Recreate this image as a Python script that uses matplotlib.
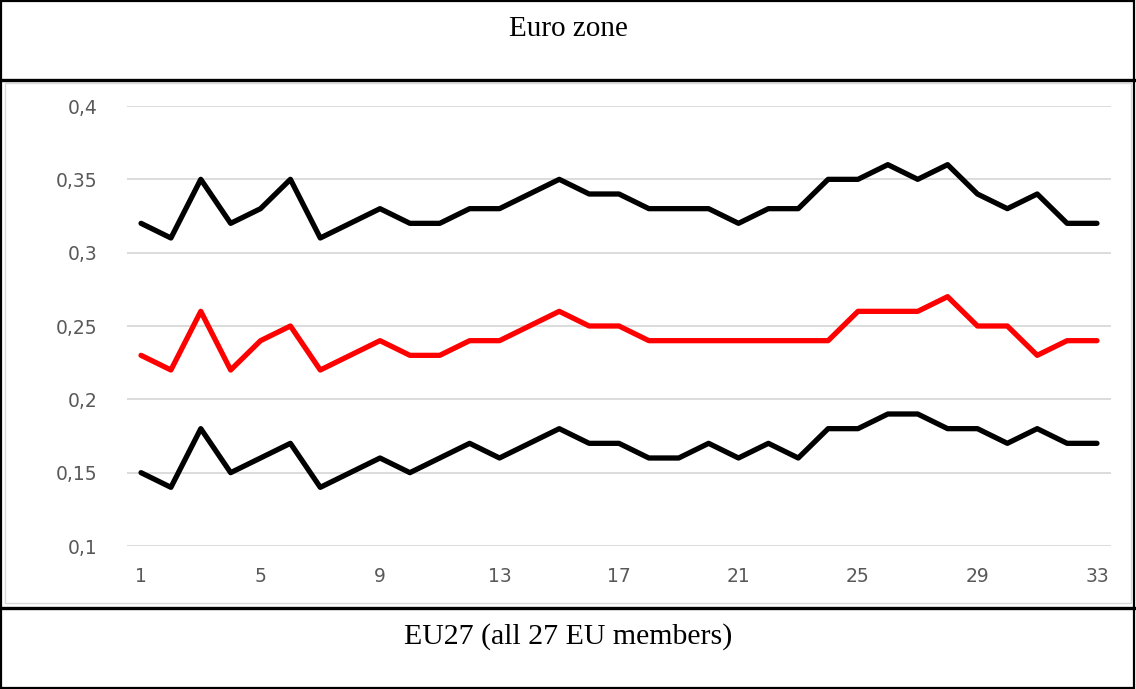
import matplotlib
matplotlib.use("Agg")
import matplotlib.pyplot as plt
from matplotlib.lines import Line2D
from matplotlib.patches import Rectangle

x_values = list(range(1, 34))
upper_black = [0.32, 0.31, 0.35, 0.32, 0.33, 0.35, 0.31, 0.32, 0.33, 0.32, 0.32,
               0.33, 0.33, 0.34, 0.35, 0.34, 0.34, 0.33, 0.33, 0.33, 0.32, 0.33,
               0.33, 0.35, 0.35, 0.36, 0.35, 0.36, 0.34, 0.33, 0.34, 0.32, 0.32]
middle_red = [0.23, 0.22, 0.26, 0.22, 0.24, 0.25, 0.22, 0.23, 0.24, 0.23, 0.23,
              0.24, 0.24, 0.25, 0.26, 0.25, 0.25, 0.24, 0.24, 0.24, 0.24, 0.24,
              0.24, 0.24, 0.26, 0.26, 0.26, 0.27, 0.25, 0.25, 0.23, 0.24, 0.24]
lower_black = [0.15, 0.14, 0.18, 0.15, 0.16, 0.17, 0.14, 0.15, 0.16, 0.15, 0.16,
               0.17, 0.16, 0.17, 0.18, 0.17, 0.17, 0.16, 0.16, 0.17, 0.16, 0.17,
               0.16, 0.18, 0.18, 0.19, 0.19, 0.18, 0.18, 0.17, 0.18, 0.17, 0.17]
x_ticks = [1, 5, 9, 13, 17, 21, 25, 29, 33]
y_ticks = [0.1, 0.15, 0.2, 0.25, 0.3, 0.35, 0.4]
y_tick_labels = ["0,1", "0,15", "0,2", "0,25", "0,3", "0,35", "0,4"]
top_caption = "Euro zone"
bottom_caption = "EU27 (all 27 EU members)"

W, H = 1136, 689
fig = plt.figure(figsize=(W / 100, H / 100), dpi=100)

def fx(px):
    return px / W

def fy(py):
    return 1 - py / H

ax = fig.add_axes([fx(127), fy(546), fx(1111) - fx(127), fy(106) - fy(546)])
ax.set_xlim(0.53, 33.47)
ax.set_ylim(0.1, 0.4)

for series, col in [(upper_black, "black"), (middle_red, "#ff0000"), (lower_black, "black")]:
    ax.plot(x_values, series, color=col, lw=3.8, solid_joinstyle="round",
            solid_capstyle="round", zorder=3)

ax.set_yticks(y_ticks)
ax.set_yticklabels(y_tick_labels)
ax.set_xticks(x_ticks)
ax.set_xticklabels([str(t) for t in x_ticks])
ax.grid(axis="y", color="#d9d9d9", lw=1.3)
ax.set_axisbelow(True)
for s in ax.spines.values():
    s.set_visible(False)
ax.tick_params(axis="both", length=0, colors="#595959", labelsize=13.5)
ax.tick_params(axis="y", pad=21)
ax.tick_params(axis="x", pad=15)
for lab in ax.get_xticklabels() + ax.get_yticklabels():
    lab.set_fontfamily(["DejaVu Sans"])

fig.add_artist(Rectangle((fx(1), fy(688)), fx(1134) - fx(1), fy(1) - fy(688),
                         transform=fig.transFigure, fill=False, ec="black", lw=1.6))
fig.add_artist(Line2D([0, 1], [fy(79.5), fy(79.5)], transform=fig.transFigure,
                      color="black", lw=2.4))
fig.add_artist(Line2D([0, 1], [fy(607.5), fy(607.5)], transform=fig.transFigure,
                      color="black", lw=2.4))
fig.add_artist(Rectangle((fx(5), fy(603)), fx(1131) - fx(5), fy(83) - fy(603),
                         transform=fig.transFigure, fill=False, ec="#d9d9d9", lw=1.0))

fig.text(0.5, fy(29), top_caption, ha="center", va="center",
         fontfamily="Liberation Serif", fontsize=21, color="black")
fig.text(0.5, fy(637), bottom_caption, ha="center", va="center",
         fontfamily="Liberation Serif", fontsize=21.5, color="black")

fig.savefig("out.png", dpi=100)
